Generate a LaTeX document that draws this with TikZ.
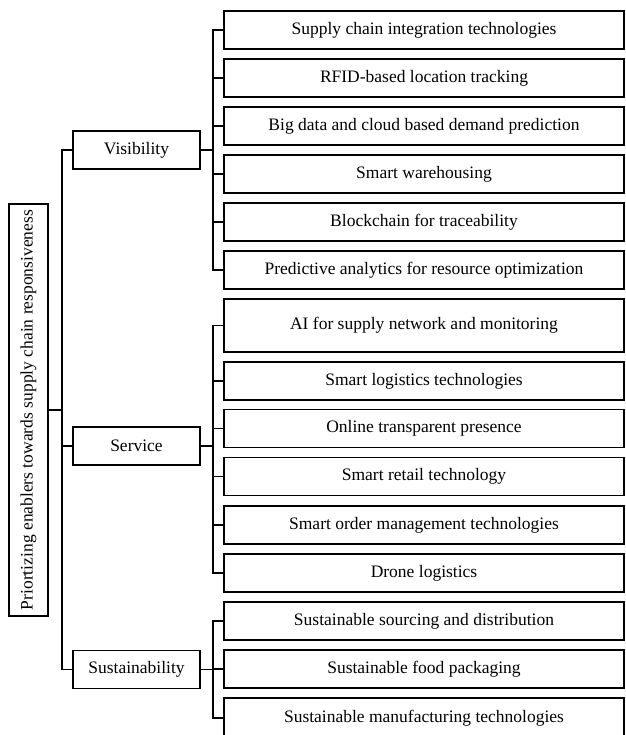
\documentclass[tikz,border=0pt]{standalone}
\usepackage{fontspec}
\setmainfont{Liberation Serif}
\begin{document}
\begin{tikzpicture}[x=1pt,y=-1pt,
  every node/.style={font=\fontsize{17.5}{20}\selectfont},
  box/.style={draw=black, line width=1.8pt, fill=white, inner sep=0pt, align=center},
  leaf/.style={box, minimum width=400pt, minimum height=38pt},
  mid/.style={box, minimum width=127pt, minimum height=38pt},
  conn/.style={draw=black, line width=1.8pt}]
\path[use as bounding box] (0,0) rectangle (625,735);
\clip (0,0) rectangle (625,735);
% root
\node[box, minimum width=39pt, minimum height=412pt] (root) at (28.5,410) {};
\node[rotate=90] at (root.center) {Priortizing enablers towards supply chain responsiveness};
% mid level
\node[mid] (vis) at (136.5,150) {Visibility};
\node[mid] (ser) at (136.5,446) {Service};
\node[mid] (sus) at (136.5,669.5) {Sustainability};
% visibility leaves
\node[leaf] (v1) at (424,30) {Supply chain integration technologies};
\node[leaf] (v2) at (424,78) {RFID-based location tracking};
\node[leaf] (v3) at (424,126) {Big data and cloud based demand prediction};
\node[leaf] (v4) at (424,174) {Smart warehousing};
\node[leaf] (v5) at (424,222) {Blockchain for traceability};
\node[leaf] (v6) at (424,270) {Predictive analytics for resource optimization};
% service leaves
\node[leaf, minimum height=53pt] (s1) at (424,325.5) {AI for supply network and monitoring};
\node[leaf] (s2) at (424,381) {Smart logistics technologies};
\node[leaf] (s3) at (424,428.5) {Online transparent presence};
\node[leaf] (s4) at (424,476.5) {Smart retail technology};
\node[leaf] (s5) at (424,525) {Smart order management technologies};
\node[leaf] (s6) at (424,573) {Drone logistics};
% sustainability leaves
\node[leaf] (u1) at (424,621) {Sustainable sourcing and distribution};
\node[leaf] (u2) at (424,669) {Sustainable food packaging};
\node[leaf, minimum height=40pt] (u3) at (424,718) {Sustainable manufacturing technologies};
% connectors root -> mid
\foreach \m in {vis,ser,sus}
  \draw[conn] (root.east) -- ++(13,0) |- (\m.west);
% connectors mid -> leaves
\foreach \l in {v1,v2,v3,v4,v5,v6}
  \draw[conn] (vis.east) -- ++(12,0) |- (\l.west);
\foreach \l in {s1,s2,s3,s4,s5,s6}
  \draw[conn] (ser.east) -- ++(12,0) |- (\l.west);
\foreach \l in {u1,u2,u3}
  \draw[conn] (sus.east) -- ++(12,0) |- (\l.west);
\end{tikzpicture}
\end{document}
